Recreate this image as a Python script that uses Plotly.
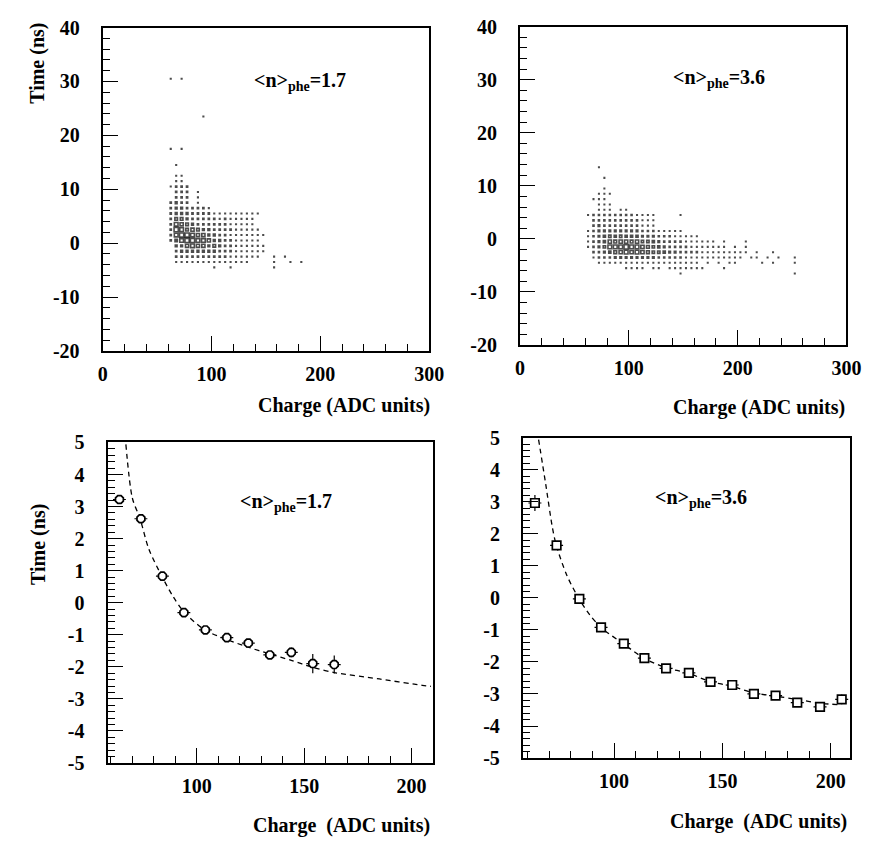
import plotly.graph_objects as go

# ------------------------------------------------------------------
# DATA
# ------------------------------------------------------------------
X_BIN = 5.0            # ADC units per cell (box histograms)
CELL_X0 = 62.5         # centre of first cell in each row

# top-left box histogram, <n>phe = 1.7 : rows of cell contents (relative)
tl_row_y = [30.5, 23.5, 17.5, 14.5, 12.5, 11.5, 10.5, 9.5, 8.5, 7.5, 6.5, 5.5,
            4.5, 3.5, 2.5, 1.5, 0.5, -0.5, -1.5, -2.5, -3.5, -4.5]
tl_row_counts = [
    [1, 0, 1],
    [0, 0, 0, 0, 0, 0, 1],
    [1, 0, 1],
    [0, 1],
    [0, 1, 1],
    [0, 1, 1],
    [1, 2, 2, 2],
    [0, 2, 2, 2, 0, 1],
    [0, 2, 2, 2, 0, 1],
    [2, 3, 2, 2, 0, 1],
    [2, 3, 3, 2, 2, 2, 2, 1],
    [2, 3, 3, 3, 2, 2, 2, 2, 1, 1, 1, 1, 1, 1, 1, 1, 1],
    [2, 5, 5, 3, 2, 2, 2, 2, 2, 1, 2, 1, 1, 1, 1, 1],
    [2, 7, 6, 5, 3, 2, 2, 2, 2, 2, 2, 1, 1, 1, 1, 1],
    [2, 8, 7, 5, 6, 5, 3, 3, 2, 2, 2, 2, 1, 1, 1, 1, 1],
    [2, 7, 8, 8, 7, 6, 6, 3, 3, 2, 2, 1, 1, 1, 1, 1, 1, 1],
    [2, 4, 7, 8, 8, 7, 7, 6, 3, 3, 2, 2, 1, 1, 1, 1, 1],
    [0, 3, 3, 6, 7, 6, 6, 3, 5, 3, 2, 2, 1, 1, 1, 1, 1, 1],
    [0, 2, 3, 3, 3, 3, 3, 3, 3, 2, 2, 2, 1, 1, 1, 1, 1, 1],
    [0, 2, 2, 2, 2, 2, 2, 2, 2, 2, 2, 1, 1, 1, 1, 1, 1, 0, 0, 1, 0, 1],
    [0, 1, 1, 1, 1, 1, 1, 1, 1, 1, 1, 1, 1, 1, 1, 0, 0, 0, 0, 1, 0, 0, 1, 0, 1],
    [0, 0, 0, 0, 0, 0, 0, 0, 1, 0, 0, 1, 0, 0, 0, 0, 0, 0, 0, 1],
]

# top-right box histogram, <n>phe = 3.6
tr_row_y = [13.5, 11.5, 9.5, 8.5, 7.5, 6.5, 5.5, 4.5, 3.5, 2.5, 1.5, 0.5,
            -0.5, -1.5, -2.5, -3.5, -4.5, -5.5, -6.5]
tr_row_counts = [
    [0, 0, 1],
    [0, 0, 0, 1],
    [0, 0, 0, 1],
    [0, 0, 1, 1, 1],
    [0, 1, 1, 1],
    [0, 0, 1, 1, 1],
    [0, 0, 1, 1, 1, 0, 1, 1],
    [1, 2, 2, 2, 2, 2, 2, 2, 2, 1, 1, 1, 1, 0, 0, 0, 0, 1],
    [0, 2, 2, 2, 2, 2, 2, 2, 2, 2, 1, 1, 1],
    [0, 2, 3, 2, 2, 2, 2, 2, 2, 2, 1, 1, 1],
    [1, 2, 3, 3, 3, 3, 3, 3, 3, 3, 2, 2, 2, 1, 1, 1, 1, 1],
    [1, 2, 3, 4, 5, 4, 5, 4, 4, 4, 3, 3, 3, 2, 2, 2, 1, 1, 1, 1, 1],
    [1, 2, 3, 4, 7, 6, 7, 7, 6, 7, 5, 5, 4, 3, 2, 2, 2, 2, 1, 1, 1, 1, 1, 1, 0, 1, 0, 0, 0, 1],
    [1, 2, 3, 5, 8, 8, 8, 9, 8, 8, 7, 6, 5, 4, 3, 2, 2, 2, 2, 1, 1, 1, 1, 1, 1, 1, 0, 1, 0, 1],
    [0, 2, 2, 3, 4, 6, 7, 8, 7, 8, 7, 6, 5, 5, 4, 3, 3, 2, 2, 2, 2, 1, 1, 1, 1, 1, 1, 1, 1, 1,
     0, 1, 0, 0, 1],
    [0, 1, 2, 2, 2, 3, 3, 3, 3, 3, 3, 3, 3, 2, 2, 2, 2, 2, 1, 1, 1, 1, 1, 1, 1, 1, 1, 1, 1, 0,
     1, 1, 0, 1, 0, 1, 0, 0, 1],
    [0, 0, 1, 1, 1, 1, 1, 1, 1, 1, 1, 1, 1, 1, 1, 1, 1, 1, 1, 1, 1, 0, 1, 0, 1, 0, 1, 1, 0, 0,
     0, 0, 1, 0, 1, 0, 0, 0, 1],
    [0, 0, 0, 0, 0, 0, 0, 1, 1, 1, 1, 0, 1, 1, 0, 1, 1, 1, 1, 1, 1, 1, 0, 0, 0, 1],
    [0, 0, 0, 0, 0, 0, 0, 0, 0, 0, 0, 0, 0, 0, 0, 0, 0, 1, 0, 0, 0, 0, 0, 0, 0, 0, 0, 0, 0, 0,
     0, 0, 0, 0, 0, 0, 0, 0, 1],
]

# bottom-left profile, <n>phe = 1.7
bl_charge = [64, 74, 84, 94, 104, 114, 124, 134, 144, 154, 164]
bl_time = [3.22, 2.62, 0.83, -0.31, -0.85, -1.09, -1.26, -1.63, -1.55, -1.9, -1.93]
bl_err = [0.12, 0.1, 0.1, 0.1, 0.1, 0.1, 0.12, 0.12, 0.15, 0.3, 0.28]
bl_fit_q = [67, 70, 73.6, 77.7, 83.7, 89, 94.3, 104, 114, 124, 134, 144, 154, 164, 185, 205, 209]
bl_fit_t = [4.94, 3.27, 2.62, 1.67, 0.83, 0.19, -0.31, -0.86, -1.15, -1.39, -1.6, -1.8,
            -2.02, -2.18, -2.38, -2.58, -2.61]

# bottom-right profile, <n>phe = 3.6
br_charge = [63.5, 73.5, 84, 94, 104.5, 114, 124, 134.5, 144.5, 154.5, 164.5, 174.5, 184.5, 195, 205]
br_time = [2.96, 1.64, -0.03, -0.92, -1.43, -1.88, -2.2, -2.34, -2.62, -2.72, -3.0, -3.05,
           -3.27, -3.4, -3.17]
br_err = [0.25, 0.12, 0.1, 0.1, 0.08, 0.08, 0.08, 0.08, 0.08, 0.08, 0.08, 0.08, 0.1, 0.13, 0.15]
br_fit_q = [65.2, 68.5, 71.5, 73.4, 78.3, 84, 88.8, 94.1, 104.4, 114.2, 123.5, 134.5, 144.3,
            154.4, 164.7, 174.5, 184.6, 194.9, 203]
br_fit_t = [4.94, 3.54, 2.22, 1.63, 0.69, -0.05, -0.53, -0.93, -1.44, -1.9, -2.17, -2.36,
            -2.61, -2.76, -2.97, -3.07, -3.17, -3.29, -3.33]

# tick labels
top_x_ticks = [0, 100, 200, 300]
top_x_labels = ["0", "100", "200", "300"]
top_y_ticks = [-20, -10, 0, 10, 20, 30, 40]
top_y_labels = ["-20", "-10", "0", "10", "20", "30", "40"]
bot_x_ticks = [100, 150, 200]
bot_x_labels = ["100", "150", "200"]
bot_y_ticks = [-5, -4, -3, -2, -1, 0, 1, 2, 3, 4, 5]
bot_y_labels = ["-5", "-4", "-3", "-2", "-1", "0", "1", "2", "3", "4", "5"]

# ------------------------------------------------------------------
W, H = 882, 846
FONT = "Liberation Serif"


def fx(p):
    return p / W


def fy(p):
    return 1 - p / H


def expand(rows_y, rows):
    xs, ys, cs = [], [], []
    for y, row in zip(rows_y, rows):
        for i, c in enumerate(row):
            if c > 0:
                xs.append(CELL_X0 + X_BIN * i)
                ys.append(y)
                cs.append(c)
    return xs, ys, cs


fig = go.Figure()

# box histograms: small cells as filled dots, large cells as open boxes
for rows_y, rows, xa, ya in [(tl_row_y, tl_row_counts, "x", "y"),
                             (tr_row_y, tr_row_counts, "x2", "y2")]:
    xs, ys, cs = expand(rows_y, rows)
    cmax = max(cs)
    small = [i for i, c in enumerate(cs) if c <= 4]
    big = [i for i, c in enumerate(cs) if c > 4]
    fig.add_trace(go.Scatter(
        x=[xs[i] for i in small], y=[ys[i] for i in small], mode="markers",
        xaxis=xa, yaxis=ya, hoverinfo="skip",
        marker=dict(symbol="square", size=[1.5 + 5.0 * cs[i] / cmax for i in small],
                    color="black", line=dict(width=0)),
        showlegend=False))
    fig.add_trace(go.Scatter(
        x=[xs[i] for i in big], y=[ys[i] for i in big], mode="markers",
        xaxis=xa, yaxis=ya, hoverinfo="skip",
        marker=dict(symbol="square-open", size=[4.2 * cs[i] / cmax for i in big],
                    color="black", line=dict(width=1.6, color="black")),
        showlegend=False))

# profiles
for q, t, e, fq, ft, sym, xa, ya in [
        (bl_charge, bl_time, bl_err, bl_fit_q, bl_fit_t, "octagon", "x3", "y3"),
        (br_charge, br_time, br_err, br_fit_q, br_fit_t, "square", "x4", "y4")]:
    fig.add_trace(go.Scatter(
        x=fq, y=ft, mode="lines", xaxis=xa, yaxis=ya, hoverinfo="skip",
        line=dict(color="black", width=1.3, dash="5px,4px", shape="spline", smoothing=0.8),
        showlegend=False))
    fig.add_trace(go.Scatter(
        x=q, y=t, mode="markers", xaxis=xa, yaxis=ya,
        error_y=dict(type="data", array=e, width=0, thickness=1.2, color="black"),
        error_x=dict(type="constant", value=3.0, width=0, thickness=1.2, color="black"),
        marker=dict(symbol=sym, size=8.5, color="white",
                    line=dict(width=1.7, color="black")),
        showlegend=False))

tickfont = dict(family=FONT, size=20, color="black", weight="bold")


def axis_common():
    return dict(showline=True, linewidth=2.2, linecolor="black", mirror=True,
                showgrid=False, zeroline=False, ticks="inside", tickwidth=1.3,
                ticklen=15, tickcolor="black", tickfont=tickfont, tickmode="array")


panels = [
    # name suffix, x px, y px, x range, y range, top?
    ("", (100, 434), (17, 349), [0, 300], [-20, 40], True),
    ("2", (527, 861), (16, 343), [0, 300], [-20, 40], True),
    ("3", (105, 438), (443, 772), [58.5, 210], [-5, 5], False),
    ("4", (530, 865), (438, 767), [58, 209], [-5, 5], False),
]

layout = dict(width=W, height=H, margin=dict(l=0, r=0, t=0, b=0),
              plot_bgcolor="white", paper_bgcolor="white", showlegend=False)

for suf, (x0, x1), (y0, y1), xr, yr, top in panels:
    xa = axis_common()
    ya = axis_common()
    xa.update(domain=[fx(x0), fx(x1)], range=xr, anchor="y" + suf,
              ticklabelstandoff=4)
    ya.update(domain=[fy(y1), fy(y0)], range=yr, anchor="x" + suf,
              ticklabelstandoff=17)
    if top:
        xa.update(tickvals=top_x_ticks, ticktext=top_x_labels,
                  minor=dict(tickmode="linear", tick0=0, dtick=20, ticks="inside",
                             ticklen=7, tickwidth=1.1, tickcolor="black"))
        ya.update(tickvals=top_y_ticks, ticktext=top_y_labels,
                  minor=dict(tickmode="linear", tick0=0, dtick=2, ticks="inside",
                             ticklen=7, tickwidth=1.1, tickcolor="black"))
    else:
        xa.update(tickvals=bot_x_ticks, ticktext=bot_x_labels,
                  minor=dict(tickmode="linear", tick0=0, dtick=10, ticks="inside",
                             ticklen=7, tickwidth=1.1, tickcolor="black"))
        ya.update(tickvals=bot_y_ticks, ticktext=bot_y_labels,
                  minor=dict(tickmode="linear", tick0=0, dtick=0.2, ticks="inside",
                             ticklen=7, tickwidth=1.1, tickcolor="black"))
    layout["xaxis" + suf] = xa
    layout["yaxis" + suf] = ya

fig.update_layout(**layout)

labfont = dict(family=FONT, size=20, color="black", weight="bold")
annos = []
# axis titles
for xr_, yc in [(437, 405), (862, 407)]:
    annos.append(dict(text="Charge (ADC units)", x=fx(xr_), y=fy(yc), xref="paper",
                      yref="paper", xanchor="right", yanchor="middle", showarrow=False,
                      font=labfont))
for xr_, yc in [(437, 836), (864, 832)]:
    annos.append(dict(text="Charge\u00a0 (ADC units)", x=fx(xr_), y=fy(yc), xref="paper",
                      yref="paper", xanchor="right", yanchor="middle", showarrow=False,
                      font=labfont))
for xc, yc in [(33, 54), (35, 548)]:
    annos.append(dict(text="Time (ns)", x=fx(xc), y=fy(yc), xref="paper", yref="paper",
                      xanchor="center", yanchor="middle", textangle=-90,
                      showarrow=False, font=labfont))
# <n>phe labels
for xl, yc, val in [(253, 72, "1.7"), (681, 69, "3.6"), (238, 505, "1.7"), (663, 501, "3.6")]:
    annos.append(dict(text="&lt;n&gt;<sub>phe</sub>=" + val, x=fx(xl), y=fy(yc),
                      xref="paper", yref="paper", xanchor="left", yanchor="middle",
                      showarrow=False, font=labfont))
fig.update_layout(annotations=annos)

# pin the figure to the window's top-left corner (no default body margin), no modebar
fig.write_html("out.html", config={"displayModeBar": False},
               post_script="document.body.style.margin='0px';")
